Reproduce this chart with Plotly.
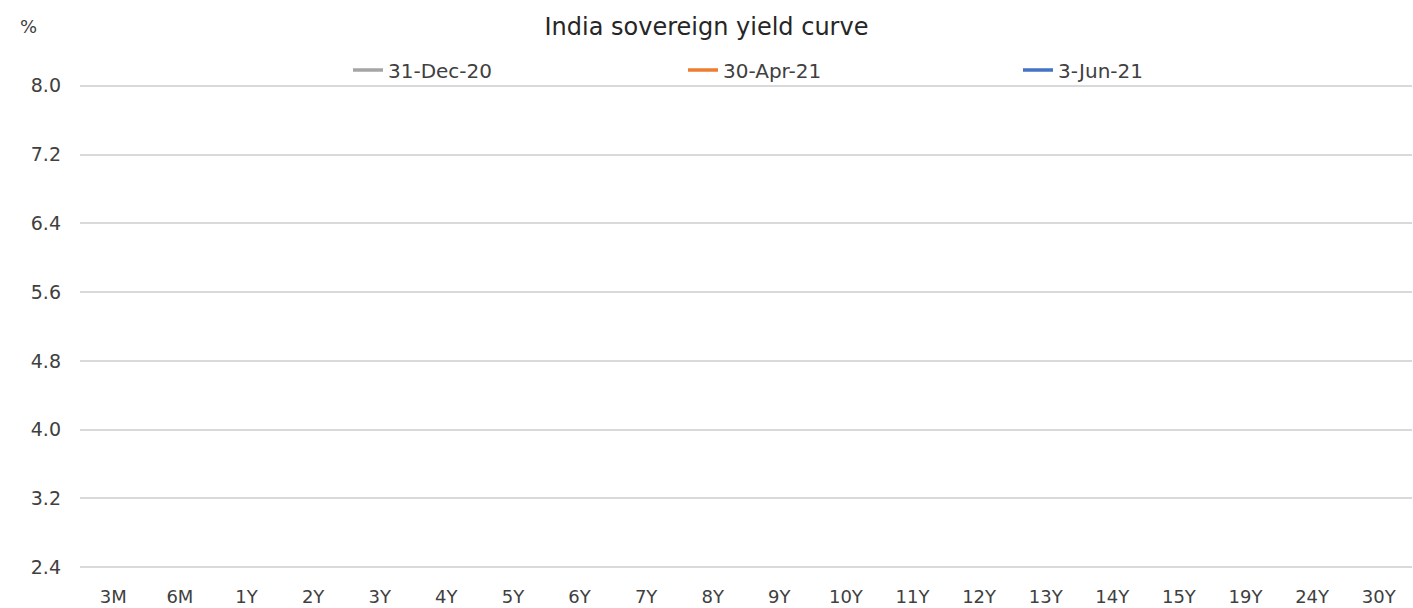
import plotly.graph_objects as go

# Tenors (x-axis categories)
tenors = ["3M", "6M", "1Y", "2Y", "3Y", "4Y", "5Y", "6Y", "7Y", "8Y",
          "9Y", "10Y", "11Y", "12Y", "13Y", "14Y", "15Y", "19Y", "24Y", "30Y"]

# Series: no line is visible in the reference picture, so no values can be read
yield_31dec20 = [None, None, None, None, None, None, None, None, None, None,
                 None, None, None, None, None, None, None, None, None, None]
yield_30apr21 = [None, None, None, None, None, None, None, None, None, None,
                 None, None, None, None, None, None, None, None, None, None]
yield_3jun21 = [None, None, None, None, None, None, None, None, None, None,
                None, None, None, None, None, None, None, None, None, None]

series_names = ["31-Dec-20", "30-Apr-21", "3-Jun-21"]
series_colors = ["#A5A5A5", "#ED7D31", "#4472C4"]
series_values = [yield_31dec20, yield_30apr21, yield_3jun21]

FONT = "DejaVu Sans"
TXT = "#404040"

fig = go.Figure()
for name, color, vals in zip(series_names, series_colors, series_values):
    fig.add_trace(go.Scatter(x=tenors, y=vals, mode="lines", name=name,
                             line=dict(color=color, width=3.5)))

W, H = 1413, 608
ml, mr, mt, mb = 80, 1, 84, 39
pw, ph = W - ml - mr, H - mt - mb

def px_x(p):
    return (p - ml) / pw

def px_y(p):
    return (H - mb - p) / ph

fig.update_layout(
    width=W, height=H,
    margin=dict(l=ml, r=mr, t=mt, b=mb, pad=0, autoexpand=False),
    paper_bgcolor="white", plot_bgcolor="white",
    font=dict(family=FONT, size=18, color=TXT),
    title=dict(text="India sovereign yield curve", x=0.5, xanchor="center",
               y=1 - 27 / H, yanchor="middle",
               font=dict(family=FONT, size=24, color="#262626")),
    showlegend=True,
    legend=dict(orientation="h", x=px_x(348), xanchor="left",
                y=px_y(70), yanchor="middle",
                entrywidth=290, entrywidthmode="pixels",
                font=dict(family=FONT, size=20, color=TXT),
                bgcolor="rgba(0,0,0,0)", borderwidth=0),
    xaxis=dict(type="category", categoryorder="array", categoryarray=tenors,
               range=[-0.5, len(tenors) - 0.5], showgrid=False, zeroline=False,
               showline=False, ticks="", ticklabelstandoff=15, automargin=False,
               tickfont=dict(family=FONT, size=18, color=TXT), fixedrange=True),
    yaxis=dict(range=[2.38, 8.02], tick0=2.4, dtick=0.8, tickformat=".1f",
               showgrid=True, gridcolor="#D9D9D9", gridwidth=1.5, automargin=False,
               zeroline=False, showline=False, ticks="", ticklabelstandoff=18,
               tickfont=dict(family=FONT, size=19, color=TXT), fixedrange=True),
    annotations=[dict(text="%", xref="paper", yref="paper", x=px_x(18), y=px_y(27),
                      xanchor="left", yanchor="middle", showarrow=False,
                      font=dict(family=FONT, size=18, color=TXT))],
)

fig.write_html("out.html", config={"displayModeBar": False},
               post_script="document.body.style.margin='0';document.body.style.overflow='hidden';")
